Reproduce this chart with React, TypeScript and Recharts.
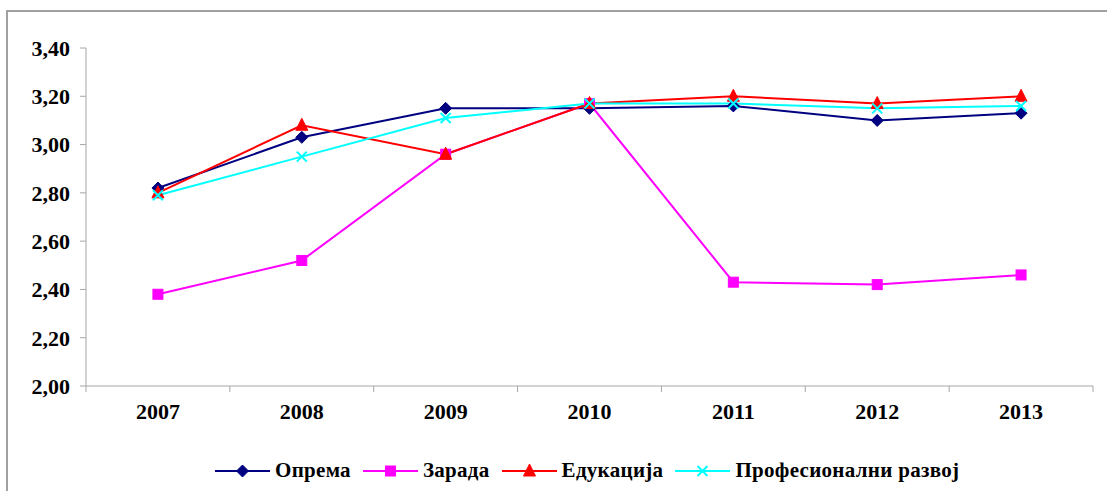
import React from 'react'
import { LineChart, Line, XAxis, YAxis } from 'recharts'

const years = ['2007', '2008', '2009', '2010', '2011', '2012', '2013']
const oprema = [2.82, 3.03, 3.15, 3.15, 3.16, 3.1, 3.13]
const zarada = [2.38, 2.52, 2.96, 3.17, 2.43, 2.42, 2.46]
const edukacija = [2.8, 3.08, 2.96, 3.17, 3.2, 3.17, 3.2]
const razvoj = [2.79, 2.95, 3.11, 3.17, 3.17, 3.15, 3.16]
const yTicks = [2.0, 2.2, 2.4, 2.6, 2.8, 3.0, 3.2, 3.4]

const W = 1107
const H = 491
const MARGIN = { top: 48, right: 14, bottom: 65, left: 0 }
const Y_AXIS_W = 86
const BAND = (W - MARGIN.right - Y_AXIS_W) / years.length

const FONT = '"Liberation Serif", "Times New Roman", serif'
const AXIS_GRAY = '#a6a6a6'

// categories sit in the middle of each band, ticks on band edges (Excel style)
const chartData = years.map((year, i) => ({
  pos: i + 0.5,
  year,
  oprema: oprema[i],
  zarada: zarada[i],
  edukacija: edukacija[i],
  razvoj: razvoj[i],
}))

const xTickPositions = years.map((_, i) => i).concat(years.length)

const Diamond = ({ cx, cy, color }: any) => (
  <polygon points={`${cx},${cy - 6} ${cx + 6},${cy} ${cx},${cy + 6} ${cx - 6},${cy}`} fill={color} stroke={color} />
)
const Square = ({ cx, cy, color }: any) => (
  <rect x={cx - 5} y={cy - 5} width={10} height={10} fill={color} stroke={color} />
)
const Triangle = ({ cx, cy, color }: any) => (
  <polygon points={`${cx},${cy - 7} ${cx + 6},${cy + 5} ${cx - 6},${cy + 5}`} fill={color} stroke={color} />
)
const Cross = ({ cx, cy, color }: any) => (
  <g stroke={color} strokeWidth={2}>
    <line x1={cx - 5} y1={cy - 5} x2={cx + 5} y2={cy + 5} />
    <line x1={cx - 5} y1={cy + 5} x2={cx + 5} y2={cy - 5} />
  </g>
)

const series = [
  { key: 'oprema', name: 'Опрема', color: '#000080', Marker: Diamond },
  { key: 'zarada', name: 'Зарада', color: '#FF00FF', Marker: Square },
  { key: 'edukacija', name: 'Едукација', color: '#FF0000', Marker: Triangle },
  { key: 'razvoj', name: 'Професионални развој', color: '#00FFFF', Marker: Cross },
]

const XTick = ({ x, y, payload }: any) => {
  const label = years[payload.value]
  if (!label) return null
  return (
    <text x={x + BAND / 2} y={y + 25} textAnchor="middle" fontFamily={FONT} fontWeight="bold" fontSize={22} fill="#000">
      {label}
    </text>
  )
}

const LegendRow = () => (
  <div
    style={{
      position: 'absolute',
      left: 215,
      top: 458,
      display: 'flex',
      alignItems: 'center',
      fontFamily: FONT,
      fontWeight: 'bold',
      fontSize: 21,
      letterSpacing: 0.3,
      whiteSpace: 'nowrap',
    }}
  >
    {series.map(({ key, name, color, Marker }) => (
      <div key={key} style={{ display: 'flex', alignItems: 'center', marginRight: 12 }}>
        <svg width={55} height={16}>
          <line x1={0} y1={8} x2={55} y2={8} stroke={color} strokeWidth={2} />
          <Marker cx={27.5} cy={8} color={color} />
        </svg>
        <span style={{ marginLeft: 5 }}>{name}</span>
      </div>
    ))}
  </div>
)

export default function App() {
  return (
    <div style={{ position: 'absolute', left: 0, top: 0, width: W, height: H, overflow: 'hidden', background: '#fff' }}>
      <div
        style={{
          position: 'absolute',
          left: 6,
          top: 10,
          width: W + 20,
          height: H + 20,
          border: '2px solid #a0a0a0',
        }}
      />
      <div style={{ position: 'absolute', left: 0, top: 0 }}>
        <LineChart width={W} height={H} data={chartData} margin={MARGIN}>
          <XAxis
            dataKey="pos"
            type="number"
            domain={[0, years.length]}
            ticks={xTickPositions}
            interval={0}
            height={40}
            stroke={AXIS_GRAY}
            tickSize={6}
            tick={<XTick />}
          />
          <YAxis
            type="number"
            domain={[2, 3.4]}
            ticks={yTicks}
            interval={0}
            width={Y_AXIS_W}
            stroke={AXIS_GRAY}
            tickSize={6}
            tickMargin={10}
            tickFormatter={(v: number) => v.toFixed(2).replace('.', ',')}
            tick={{ fontFamily: FONT, fontWeight: 'bold', fontSize: 22, fill: '#000' }}
          />
          {series.map(({ key, name, color, Marker }) => (
            <Line
              key={key}
              dataKey={key}
              name={name}
              stroke={color}
              strokeWidth={2}
              isAnimationActive={false}
              dot={(p: any) => <Marker key={`${key}-${p.index}`} cx={p.cx} cy={p.cy} color={color} />}
              activeDot={false}
            />
          ))}
        </LineChart>
      </div>
      <LegendRow />
    </div>
  )
}
